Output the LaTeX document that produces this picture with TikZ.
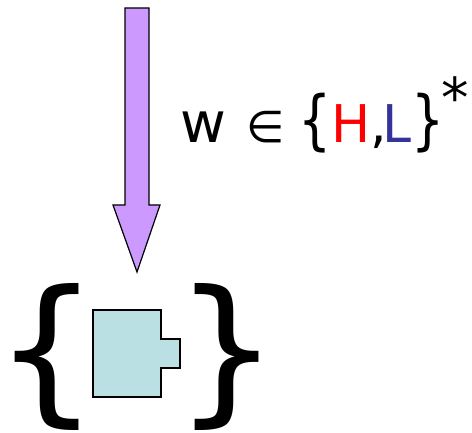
\documentclass[tikz,border=0pt]{standalone}
\usepackage{fontspec}
\setmainfont{DejaVu Sans}
\usepackage{graphicx}
\usetikzlibrary{positioning}
\definecolor{arrowfill}{RGB}{204,153,255}
\definecolor{tilefill}{RGB}{187,224,227}
\definecolor{hred}{RGB}{255,0,0}
\definecolor{lblue}{RGB}{51,51,153}
\newcommand{\tallbrace}[1]{\scalebox{1}[1.25]{#1}}

\begin{document}
\begin{tikzpicture}[x=1pt,y=-1pt]
  \useasboundingbox (0,0) rectangle (472,433);
  % big down arrow
  \draw[fill=arrowfill,line width=1.2pt] (125,8) -- (149,8) -- (149,205) -- (160,205)
    -- (137,272) -- (113,205) -- (125,205) -- cycle;
  % tile inside the set braces
  \draw[fill=tilefill,line width=1.2pt] (93,310) -- (161,310) -- (161,339) -- (180,339)
    -- (180,368) -- (161,368) -- (161,397) -- (93,397) -- cycle;
  \node[inner sep=0pt] (lbrace) at (47.5,357) {\resizebox{105pt}{121pt}{\{}};
  \node[inner sep=0pt] (rbrace) at (227,357) {\resizebox{105pt}{121pt}{\}}};
  % label of the arrow
  \node[font=\fontsize{52}{60}\selectfont,anchor=base west,inner sep=0pt] (word) at (180,143)
    {{\fontsize{56}{60}\selectfont w}\hspace{20.7pt}{\fontsize{44}{50}\selectfont ∈}\hspace{13pt}\tallbrace{\{}\textcolor{hred}{H},\hspace{-4pt}\textcolor{lblue}{L}\tallbrace{\}}};
  \node[font=\fontsize{55}{60}\selectfont,anchor=base,inner sep=0pt] (star) at (455,118) {*};
\end{tikzpicture}
\end{document}
